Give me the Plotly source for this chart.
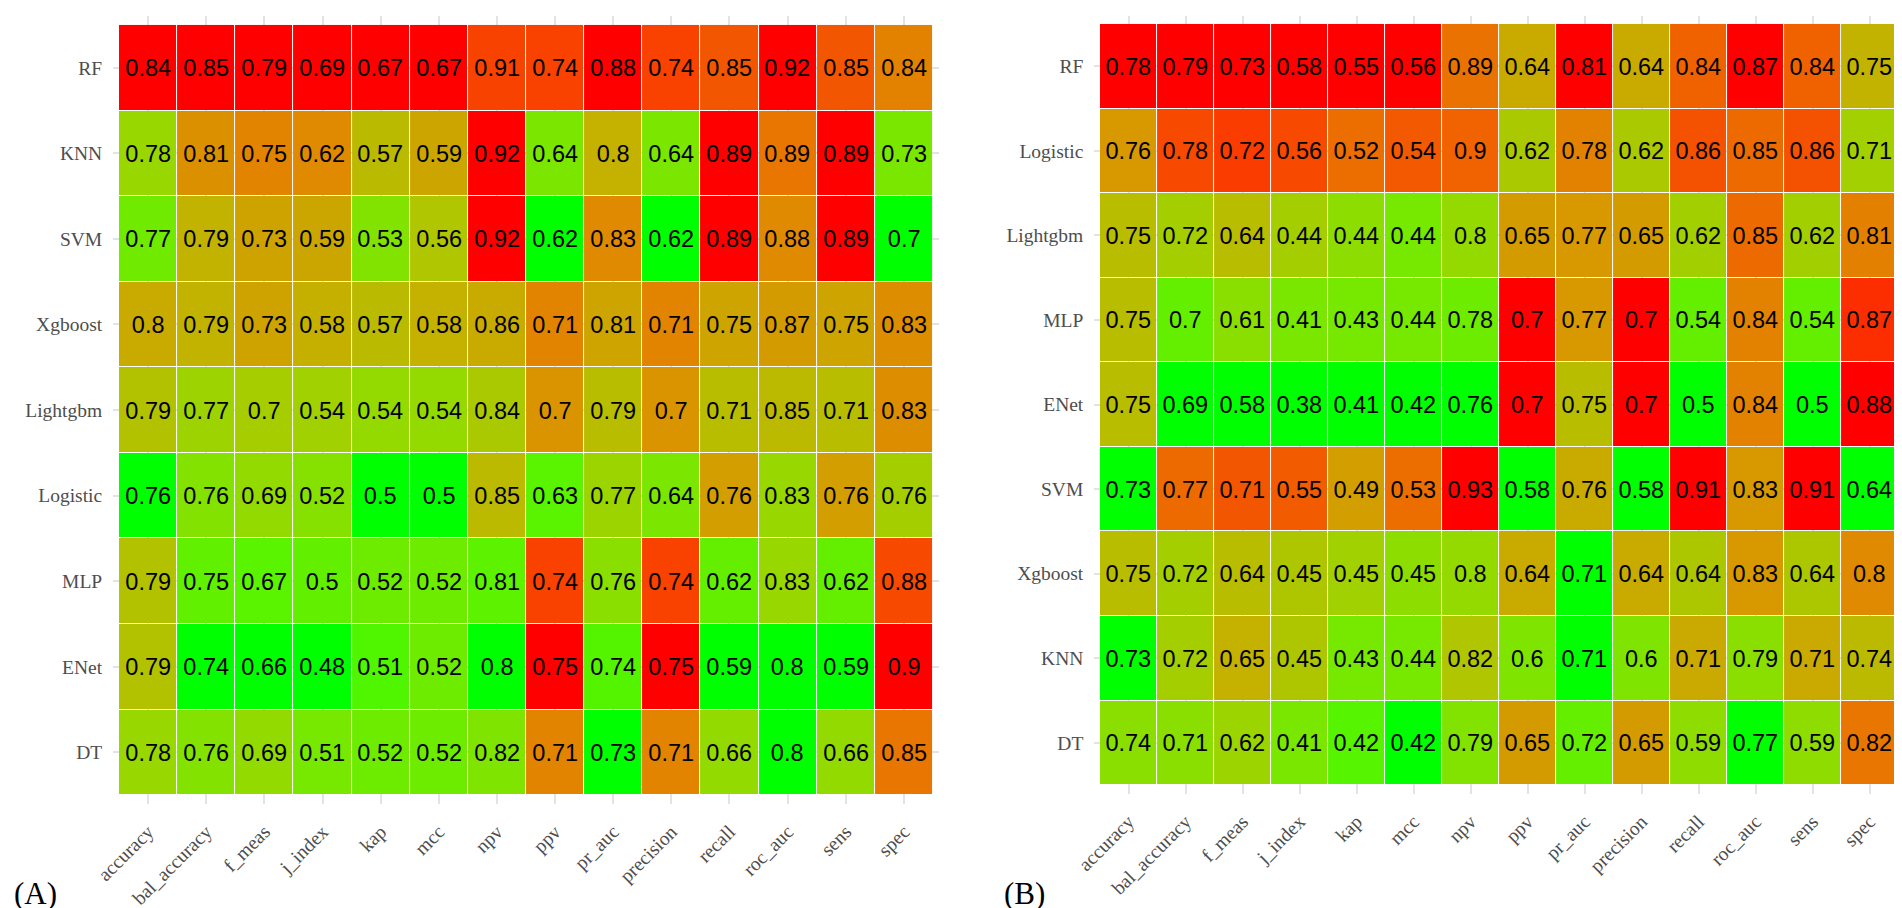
import plotly.graph_objects as go
import numpy as np

metrics = ["accuracy", "bal_accuracy", "f_meas", "j_index", "kap", "mcc", "npv",
           "ppv", "pr_auc", "precision", "recall", "roc_auc", "sens", "spec"]

models_a = ["RF", "KNN", "SVM", "Xgboost", "Lightgbm", "Logistic", "MLP", "ENet", "DT"]
rf_a       = [0.84, 0.85, 0.79, 0.69, 0.67, 0.67, 0.91, 0.74, 0.88, 0.74, 0.85, 0.92, 0.85, 0.84]
knn_a      = [0.78, 0.81, 0.75, 0.62, 0.57, 0.59, 0.92, 0.64, 0.80, 0.64, 0.89, 0.89, 0.89, 0.73]
svm_a      = [0.77, 0.79, 0.73, 0.59, 0.53, 0.56, 0.92, 0.62, 0.83, 0.62, 0.89, 0.88, 0.89, 0.70]
xgboost_a  = [0.80, 0.79, 0.73, 0.58, 0.57, 0.58, 0.86, 0.71, 0.81, 0.71, 0.75, 0.87, 0.75, 0.83]
lightgbm_a = [0.79, 0.77, 0.70, 0.54, 0.54, 0.54, 0.84, 0.70, 0.79, 0.70, 0.71, 0.85, 0.71, 0.83]
logistic_a = [0.76, 0.76, 0.69, 0.52, 0.50, 0.50, 0.85, 0.63, 0.77, 0.64, 0.76, 0.83, 0.76, 0.76]
mlp_a      = [0.79, 0.75, 0.67, 0.50, 0.52, 0.52, 0.81, 0.74, 0.76, 0.74, 0.62, 0.83, 0.62, 0.88]
enet_a     = [0.79, 0.74, 0.66, 0.48, 0.51, 0.52, 0.80, 0.75, 0.74, 0.75, 0.59, 0.80, 0.59, 0.90]
dt_a       = [0.78, 0.76, 0.69, 0.51, 0.52, 0.52, 0.82, 0.71, 0.73, 0.71, 0.66, 0.80, 0.66, 0.85]

models_b = ["RF", "Logistic", "Lightgbm", "MLP", "ENet", "SVM", "Xgboost", "KNN", "DT"]
rf_b       = [0.78, 0.79, 0.73, 0.58, 0.55, 0.56, 0.89, 0.64, 0.81, 0.64, 0.84, 0.87, 0.84, 0.75]
logistic_b = [0.76, 0.78, 0.72, 0.56, 0.52, 0.54, 0.90, 0.62, 0.78, 0.62, 0.86, 0.85, 0.86, 0.71]
lightgbm_b = [0.75, 0.72, 0.64, 0.44, 0.44, 0.44, 0.80, 0.65, 0.77, 0.65, 0.62, 0.85, 0.62, 0.81]
mlp_b      = [0.75, 0.70, 0.61, 0.41, 0.43, 0.44, 0.78, 0.70, 0.77, 0.70, 0.54, 0.84, 0.54, 0.87]
enet_b     = [0.75, 0.69, 0.58, 0.38, 0.41, 0.42, 0.76, 0.70, 0.75, 0.70, 0.50, 0.84, 0.50, 0.88]
svm_b      = [0.73, 0.77, 0.71, 0.55, 0.49, 0.53, 0.93, 0.58, 0.76, 0.58, 0.91, 0.83, 0.91, 0.64]
xgboost_b  = [0.75, 0.72, 0.64, 0.45, 0.45, 0.45, 0.80, 0.64, 0.71, 0.64, 0.64, 0.83, 0.64, 0.80]
knn_b      = [0.73, 0.72, 0.65, 0.45, 0.43, 0.44, 0.82, 0.60, 0.71, 0.60, 0.71, 0.79, 0.71, 0.74]
dt_b       = [0.74, 0.71, 0.62, 0.41, 0.42, 0.42, 0.79, 0.65, 0.72, 0.65, 0.59, 0.77, 0.59, 0.82]

vals_a = np.array([rf_a, knn_a, svm_a, xgboost_a, lightgbm_a, logistic_a, mlp_a, enet_a, dt_a])
vals_b = np.array([rf_b, logistic_b, lightgbm_b, mlp_b, enet_b, svm_b, xgboost_b, knn_b, dt_b])


# ---- Lab-space gradient green -> red (like ggplot scale_fill_gradient) ----
def srgb_to_lab(rgb):
    c = np.array(rgb, float) / 255.0
    c = np.where(c <= 0.04045, c / 12.92, ((c + 0.055) / 1.055) ** 2.4)
    M = np.array([[0.4124564, 0.3575761, 0.1804375],
                  [0.2126729, 0.7151522, 0.0721750],
                  [0.0193339, 0.1191920, 0.9503041]])
    xyz = M @ c
    wp = np.array([0.95047, 1.0, 1.08883])
    t = xyz / wp
    f = np.where(t > (6 / 29) ** 3, np.cbrt(t), t / (3 * (6 / 29) ** 2) + 4 / 29)
    return np.array([116 * f[1] - 16, 500 * (f[0] - f[1]), 200 * (f[1] - f[2])])


def lab_to_srgb(lab):
    L, a, b = lab
    fy = (L + 16) / 116
    fx = fy + a / 500
    fz = fy - b / 200
    def finv(f):
        return f ** 3 if f > 6 / 29 else 3 * (6 / 29) ** 2 * (f - 4 / 29)
    wp = np.array([0.95047, 1.0, 1.08883])
    xyz = np.array([finv(fx), finv(fy), finv(fz)]) * wp
    Minv = np.array([[3.2404542, -1.5371385, -0.4985314],
                     [-0.9692660, 1.8760108, 0.0415560],
                     [0.0556434, -0.2040259, 1.0572252]])
    c = Minv @ xyz
    c = np.clip(c, 0, 1)
    c = np.where(c <= 0.0031308, 12.92 * c, 1.055 * c ** (1 / 2.4) - 0.055)
    c = np.clip(np.round(c * 255), 0, 255).astype(int)
    return f"rgb({c[0]},{c[1]},{c[2]})"


lab_lo = srgb_to_lab((0, 255, 0))
lab_hi = srgb_to_lab((255, 0, 0))
N = 40
colorscale = [[i / N, lab_to_srgb(lab_lo + (lab_hi - lab_lo) * i / N)] for i in range(N + 1)]


def col_norm(v):
    mn = v.min(axis=0, keepdims=True)
    mx = v.max(axis=0, keepdims=True)
    return (v - mn) / np.where(mx - mn == 0, 1, mx - mn)


def fmt(v):
    return [[f"{round(x, 2):g}" for x in row] for row in v]


W, H = 1902, 908
# panel pixel boxes (left, right, top, bottom)
pa = (105.2, 930.8, 8.4, 795.6)
pb = (1086.3, 1895.7, 7.5, 785.5)

fig = go.Figure()
fig.add_trace(go.Heatmap(
    z=col_norm(vals_a), x=metrics, y=models_a, text=fmt(vals_a),
    texttemplate="%{text}", textfont=dict(family="Liberation Sans", size=23.5, color="black"),
    colorscale=colorscale, zmin=0, zmax=1, showscale=False, xgap=1, ygap=1,
    xaxis="x", yaxis="y", hoverinfo="skip"))
fig.add_trace(go.Heatmap(
    z=col_norm(vals_b), x=metrics, y=models_b, text=fmt(vals_b),
    texttemplate="%{text}", textfont=dict(family="Liberation Sans", size=23.5, color="black"),
    colorscale=colorscale, zmin=0, zmax=1, showscale=False, xgap=1, ygap=1,
    xaxis="x2", yaxis="y2", hoverinfo="skip"))

grid = "#E3E3E3"
tickfont = dict(family="Liberation Serif", size=19.5, color="#4D4D4D")


def xax(box):
    return dict(domain=[box[0] / W, box[1] / W], range=[-0.6, 13.6], tickangle=-45,
                showgrid=True, gridcolor=grid, gridwidth=1.5, zeroline=False, showline=False,
                ticks="", tickfont=tickfont, ticklabelstandoff=12, fixedrange=True,
                automargin=False)


def yax(box):
    return dict(domain=[1 - box[3] / H, 1 - box[2] / H], range=[8.6, -0.6],
                showgrid=True, gridcolor=grid, gridwidth=1.5, zeroline=False, showline=False,
                ticks="", tickfont=tickfont, ticklabelstandoff=10, fixedrange=True,
                automargin=False)


fig.update_layout(
    width=W, height=H, margin=dict(l=0, r=0, t=0, b=0),
    paper_bgcolor="white", plot_bgcolor="white", showlegend=False,
    xaxis=dict(xax(pa), anchor="y"), yaxis=dict(yax(pa), anchor="x"),
    xaxis2=dict(xax(pb), anchor="y2"), yaxis2=dict(yax(pb), anchor="x2"),
    annotations=[
        dict(text="(A)", x=27 / W, y=1 - 885 / H, xref="paper", yref="paper",
             xanchor="center", yanchor="middle",
             showarrow=False, font=dict(family="Liberation Serif", size=31, color="black")),
        dict(text="(B)", x=1016 / W, y=1 - 885 / H, xref="paper", yref="paper",
             xanchor="center", yanchor="middle",
             showarrow=False, font=dict(family="Liberation Serif", size=31, color="black")),
    ],
)

fig.write_html("out.html")
